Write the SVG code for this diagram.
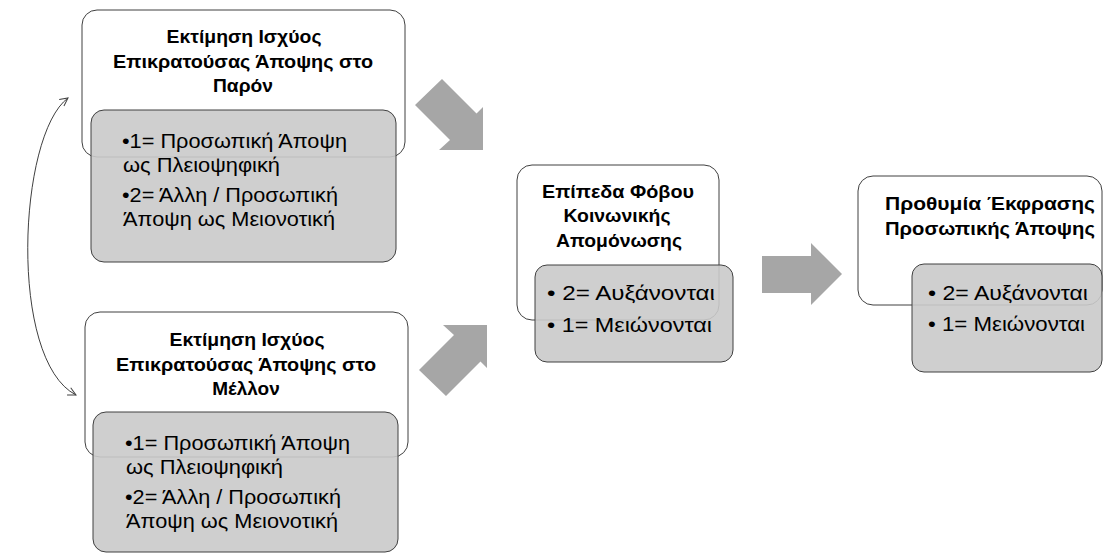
<svg xmlns="http://www.w3.org/2000/svg" width="1104" height="558" viewBox="0 0 1104 558">
<style>
.wb{fill:#ffffff;stroke:#404040;stroke-width:1}
.gb{fill:#cacaca;fill-opacity:0.9;stroke:#404040;stroke-width:1}
.t{font-family:"Liberation Sans",Arial,sans-serif;font-weight:bold;font-size:19px;fill:#000;text-anchor:middle}
.b{font-family:"Liberation Sans",Arial,sans-serif;font-size:21px;fill:#000}
.ar{fill:#a6a6a6}
.cv{fill:none;stroke:#404040;stroke-width:1}
</style>
<defs>
<marker id="oa" viewBox="0 0 10 10" refX="9" refY="5" markerWidth="10" markerHeight="10" markerUnits="userSpaceOnUse" orient="auto-start-reverse">
<path d="M1,1 L9,5 L1,9" fill="none" stroke="#404040" stroke-width="1"/>
</marker>
</defs>
<g id="connectors">
<path class="cv" d="M68,98 C18,135 8,360 76,395" marker-start="url(#oa)" marker-end="url(#oa)"/>
<polygon class="ar" points="442,79 476.5,113.5 483,107 483,150 439,150 450,140 415,105"/>
<polygon class="ar" points="446,396 480.5,361.5 487,368 487,325 443,325 454,335 419,370"/>
<polygon class="ar" points="762,256 811,256 811,243 842,274 811,305 811,293 762,293"/>
</g>
<g id="node-present">
<rect class="wb" x="82" y="10" width="323" height="147" rx="15"/>
<rect class="gb" x="91" y="110" width="305" height="152" rx="13"/>
<text class="t" x="244" y="43" textLength="155" lengthAdjust="spacingAndGlyphs">Εκτίμηση Ισχύος</text>
<text class="t" x="243" y="68" textLength="260" lengthAdjust="spacingAndGlyphs">Επικρατούσας Άποψης στο</text>
<text class="t" x="243" y="92" textLength="60" lengthAdjust="spacingAndGlyphs">Παρόν</text>
<text class="b" x="122" y="148" textLength="225" lengthAdjust="spacingAndGlyphs">•1= Προσωπική Άποψη</text>
<text class="b" x="123" y="172" textLength="157" lengthAdjust="spacingAndGlyphs">ως Πλειοψηφική</text>
<text class="b" x="122" y="202" textLength="216" lengthAdjust="spacingAndGlyphs">•2= Άλλη / Προσωπική</text>
<text class="b" x="123" y="226" textLength="212" lengthAdjust="spacingAndGlyphs">Άποψη ως Μειονοτική</text>
</g>
<g id="node-future">
<rect class="wb" x="85" y="312" width="323" height="145" rx="15"/>
<rect class="gb" x="93" y="412" width="305" height="140" rx="13"/>
<text class="t" x="247" y="346" textLength="155" lengthAdjust="spacingAndGlyphs">Εκτίμηση Ισχύος</text>
<text class="t" x="246" y="371" textLength="260" lengthAdjust="spacingAndGlyphs">Επικρατούσας Άποψης στο</text>
<text class="t" x="246" y="395">Μέλλον</text>
<text class="b" x="125" y="450" textLength="225" lengthAdjust="spacingAndGlyphs">•1= Προσωπική Άποψη</text>
<text class="b" x="126" y="474" textLength="157" lengthAdjust="spacingAndGlyphs">ως Πλειοψηφική</text>
<text class="b" x="125" y="504" textLength="216" lengthAdjust="spacingAndGlyphs">•2= Άλλη / Προσωπική</text>
<text class="b" x="126" y="528" textLength="212" lengthAdjust="spacingAndGlyphs">Άποψη ως Μειονοτική</text>
</g>
<g id="node-fear">
<rect class="wb" x="517" y="165" width="202" height="155" rx="15"/>
<rect class="gb" x="535" y="265" width="198" height="97" rx="12"/>
<text class="t" x="618" y="198" textLength="152" lengthAdjust="spacingAndGlyphs">Επίπεδα Φόβου</text>
<text class="t" x="617" y="222" textLength="107" lengthAdjust="spacingAndGlyphs">Κοινωνικής</text>
<text class="t" x="619" y="247" textLength="126" lengthAdjust="spacingAndGlyphs">Απομόνωσης</text>
<text class="b" x="547" y="300" textLength="168" lengthAdjust="spacingAndGlyphs">• 2= Αυξάνονται</text>
<text class="b" x="547" y="332" textLength="165" lengthAdjust="spacingAndGlyphs">• 1= Μειώνονται</text>
</g>
<g id="node-willingness">
<rect class="wb" x="858" y="176" width="244" height="129" rx="15"/>
<rect class="gb" x="912" y="264" width="190" height="108" rx="12"/>
<text class="t" x="990" y="210" textLength="210" lengthAdjust="spacingAndGlyphs">Προθυμία Έκφρασης</text>
<text class="t" x="990" y="235" textLength="210" lengthAdjust="spacingAndGlyphs">Προσωπικής Άποψης</text>
<text class="b" x="928" y="300" textLength="160" lengthAdjust="spacingAndGlyphs">• 2= Αυξάνονται</text>
<text class="b" x="928" y="331" textLength="157" lengthAdjust="spacingAndGlyphs">• 1= Μειώνονται</text>
</g>
</svg>
